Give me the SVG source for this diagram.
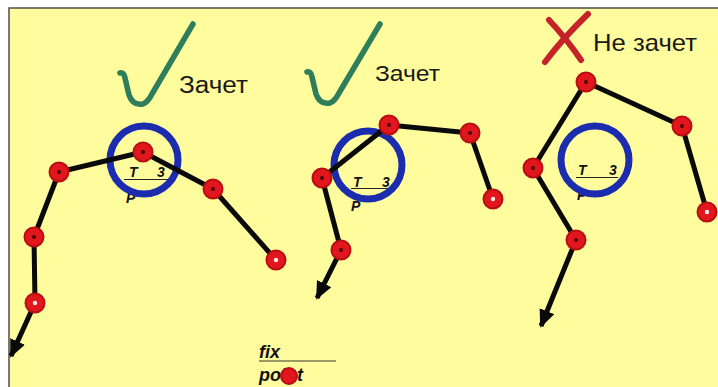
<svg xmlns="http://www.w3.org/2000/svg" width="718" height="387" viewBox="0 0 718 387">
<style>
.lbl{font-family:"Liberation Sans",Arial,sans-serif;fill:#1a1a1a}
.frac{font-family:"Liberation Sans",Arial,sans-serif;font-weight:bold;font-style:italic;font-size:14px;fill:#111}
.fx{font-family:"Liberation Sans",Arial,sans-serif;font-weight:bold;font-style:italic;font-size:18px;fill:#111}
.ring{fill:none;stroke:#1B2CAE;stroke-width:7}
.line{fill:none;stroke:#0a0a0a;stroke-width:5;stroke-linejoin:round}
.node{fill:#E2161D;stroke:#B80F14;stroke-width:2}
.dot{fill:#4a0505}
.wdot{fill:#ffe8e8}
.check{fill:none;stroke:#2E7D5B;stroke-width:5.5;stroke-linecap:round;stroke-linejoin:round}
.cross{fill:none;stroke:#C42329;stroke-width:6;stroke-linecap:round}
.ul{stroke:#222;stroke-width:1.2}
</style>
<defs>
<marker id="arr" markerUnits="userSpaceOnUse" markerWidth="18" markerHeight="16" viewBox="0 0 18 16" refX="16" refY="8" orient="auto">
<path d="M0,0 L18,8 L0,16 Z" fill="#0a0a0a"/>
</marker>
</defs>
<rect x="0" y="0" width="718" height="387" fill="#ffffff"/>
<rect x="9" y="8" width="709" height="379" fill="#FEFC9C"/>
<path d="M9,387 L9,8 L718,8" fill="none" stroke="#4d4d4d" stroke-width="1.5"/>

<g id="marks">
<path class="check" d="M120,73 Q124,72 125,78 L129,95 Q133,106 143,104 Q148,102 152,94 L193,24"/>
<text class="lbl" x="179" y="93" font-size="23" textLength="69" lengthAdjust="spacingAndGlyphs">Зачет</text>
<path class="check" d="M307,72 Q311,71 312,77 L316,94 Q320,105 330,103 Q335,101 339,93 L380,24"/>
<text class="lbl" x="375" y="81" font-size="22" textLength="65" lengthAdjust="spacingAndGlyphs">Зачет</text>
<path class="cross" d="M545,62 Q563,38 588,14"/>
<path class="cross" d="M549,20 Q566,38 581,60"/>
<text class="lbl" x="593" y="51" font-size="24" textLength="104" lengthAdjust="spacingAndGlyphs">Не зачет</text>
</g>

<g id="labels">
<text class="frac" x="129" y="177">T</text>
<text class="frac" x="157" y="177">3</text>
<line class="ul" x1="124" y1="179.5" x2="168" y2="179.5"/>
<text class="frac" x="126" y="203">P</text>
<text class="frac" x="353" y="187">T</text>
<text class="frac" x="382" y="187">3</text>
<line class="ul" x1="351" y1="188.5" x2="391" y2="188.5"/>
<text class="frac" x="351" y="211">P</text>
<text class="frac" x="578" y="175">T</text>
<text class="frac" x="609" y="175">3</text>
<line class="ul" x1="576" y1="177.5" x2="618" y2="177.5"/>
<text class="frac" x="577" y="200">P</text>
</g>

<g id="rings">
<circle class="ring" cx="144" cy="160" r="34"/>
<circle class="ring" cx="368" cy="165" r="34"/>
<circle class="ring" cx="595" cy="160" r="34"/>
</g>

<g id="connectors">
<path class="line" marker-end="url(#arr)" d="M276,260 L213,189 L143,152 L59,172 L34,237 L35,303 L11,356"/>
<path class="line" marker-end="url(#arr)" d="M493,199 L470,133 L389,125 L322,178 L341,250 L317,298"/>
<path class="line" marker-end="url(#arr)" d="M707,212 L682,126 L586,82 L533,168 L576,240 L541,326"/>
</g>

<g id="p1-n1"><circle class="node" cx="143" cy="152" r="9.5"/><circle class="dot" cx="143" cy="152" r="2"/></g>
<g id="p1-n2"><circle class="node" cx="59" cy="172" r="9.5"/><circle class="dot" cx="59" cy="172" r="2"/></g>
<g id="p1-n3"><circle class="node" cx="34" cy="237" r="9.5"/><circle class="dot" cx="34" cy="237" r="2"/></g>
<g id="p1-n4"><circle class="node" cx="35" cy="303" r="9.5"/><circle class="wdot" cx="35" cy="303" r="2.2"/></g>
<g id="p1-n5"><circle class="node" cx="213" cy="189" r="9.5"/><circle class="dot" cx="213" cy="189" r="2"/></g>
<g id="p1-n6"><circle class="node" cx="276" cy="260" r="9.5"/><circle class="wdot" cx="276" cy="260" r="2.2"/></g>

<g id="p2-n1"><circle class="node" cx="389" cy="125" r="9.5"/><circle class="dot" cx="389" cy="125" r="2"/></g>
<g id="p2-n2"><circle class="node" cx="470" cy="133" r="9.5"/><circle class="dot" cx="470" cy="133" r="2"/></g>
<g id="p2-n3"><circle class="node" cx="493" cy="199" r="9.5"/><circle class="wdot" cx="493" cy="199" r="2.2"/></g>
<g id="p2-n4"><circle class="node" cx="322" cy="178" r="9.5"/><circle class="dot" cx="322" cy="178" r="2"/></g>
<g id="p2-n5"><circle class="node" cx="341" cy="250" r="9.5"/><circle class="dot" cx="341" cy="250" r="2"/></g>

<g id="p3-n1"><circle class="node" cx="586" cy="82" r="9.5"/><circle class="dot" cx="586" cy="82" r="2"/></g>
<g id="p3-n2"><circle class="node" cx="682" cy="126" r="9.5"/><circle class="dot" cx="682" cy="126" r="2"/></g>
<g id="p3-n3"><circle class="node" cx="707" cy="212" r="9.5"/><circle class="wdot" cx="707" cy="212" r="2.2"/></g>
<g id="p3-n4"><circle class="node" cx="533" cy="168" r="9.5"/><circle class="dot" cx="533" cy="168" r="2"/></g>
<g id="p3-n5"><circle class="node" cx="576" cy="240" r="9.5"/><circle class="dot" cx="576" cy="240" r="2"/></g>

<g id="legend">
<text class="fx" x="259" y="358">fix</text>
<line x1="259" y1="361" x2="336" y2="361" stroke="#7a7a55" stroke-width="1.3"/>
<text class="fx" x="259" y="381">point</text>
<circle class="node" cx="289" cy="376" r="8" stroke-width="1"/>
</g>
</svg>
